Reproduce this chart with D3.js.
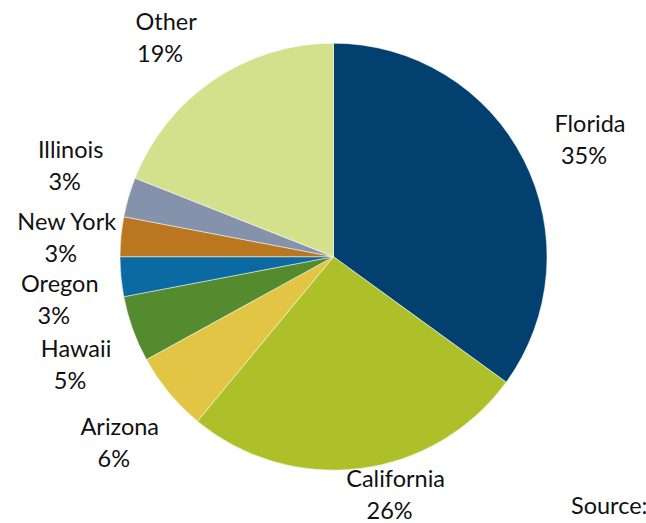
<!DOCTYPE html>
<html>
<head>
<meta charset="utf-8">
<script src="https://cdn.jsdelivr.net/npm/d3@7"></script>
<style>
    body { margin: 0; background: #fff; }
    svg { display: block; }
    .label { font-family: Lato, "Open Sans", sans-serif; font-size: 23.5px; fill: #111; }
</style>
</head>
<body>
<div id="chart"></div>
<script>
// share by state, clockwise from 12 o'clock
const states = ["Florida", "California", "Arizona", "Hawaii", "Oregon", "New York", "Illinois", "Other"];
const shares = [35, 26, 6, 5, 3, 3, 3, 19];
const colors = ["#02416f", "#adc02a", "#e2c544", "#558b2f", "#0b6aa2", "#bb771f", "#8592ab", "#d3e18c"];

// small hand tweaks so labels sit where the original put them
const labelNudge = [[7, 18], [27, -31], [2, 16], [6, 21], [5, 25], [12, 16], [6, -5], [-10, 21]];

const width = 646, height = 523;
const cx = 333.5, cy = 256.7, radius = 213.5;

const svg = d3.select("#chart").append("svg")
    .attr("width", width)
    .attr("height", height);

const g = svg.append("g")
    .attr("transform", "translate(" + cx + "," + cy + ")");

const pie = d3.pie().sort(null).value(d => d);
const arcs = pie(shares);

const arc = d3.arc().innerRadius(0).outerRadius(radius);
const labelArc = d3.arc().innerRadius(280).outerRadius(280);

g.selectAll(".slice")
    .data(arcs)
    .enter().append("path")
    .attr("class", "slice")
    .attr("d", arc)
    .attr("fill", (d, i) => colors[i])
    .attr("stroke", "#fff")
    .attr("stroke-width", 0.5);

const label = g.selectAll(".label")
    .data(arcs)
    .enter().append("text")
    .attr("class", "label")
    .attr("text-anchor", "middle")
    .attr("transform", (d, i) => {
        const [x, y] = labelArc.centroid(d);
        return "translate(" + (x + labelNudge[i][0]) + "," + (y + labelNudge[i][1]) + ")";
    });

label.append("tspan")
    .attr("x", 0)
    .attr("y", -16)
    .text((d, i) => states[i]);

label.append("tspan")
    .attr("x", -6)
    .attr("y", 16)
    .text(d => d.data + "%");

svg.append("text")
    .attr("class", "label")
    .attr("x", 571)
    .attr("y", 514)
    .text("Source:");
</script>
</body>
</html>
